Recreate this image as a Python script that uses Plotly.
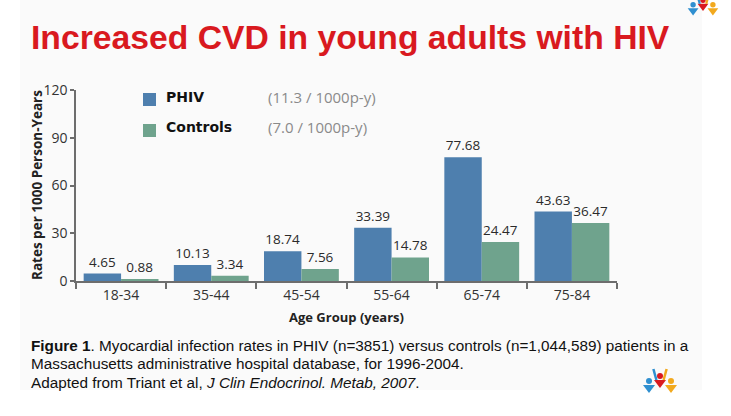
import plotly.graph_objects as go

# ---- data ----
age_groups = ["18-34", "35-44", "45-54", "55-64", "65-74", "75-84"]
phiv_rates = [4.65, 10.13, 18.74, 33.39, 77.68, 43.63]
control_rates = [0.88, 3.34, 7.56, 14.78, 24.47, 36.47]
series_names = ["PHIV", "Controls"]
overall_rates = ["(11.3 / 1000p-y)", "(7.0 / 1000p-y)"]
y_ticks = [0, 30, 60, 90, 120]

W, H = 731, 416
L, R, T, B = 76, 617, 90, 281  # plot area in pixels

BLUE = "#4e7fae"
GREEN = "#6fa38d"
AXIS = "#6d6d6d"


def px(x):
    return (x - L) / (R - L)


def py(y):
    return (B - y) / (B - T)


fig = go.Figure()
for name, vals, col in [(series_names[0], phiv_rates, BLUE),
                        (series_names[1], control_rates, GREEN)]:
    fig.add_trace(go.Bar(
        x=age_groups, y=vals, name=name, marker_color=col,
        marker_line_width=0,
        text=[f"{v:.2f}" for v in vals], textposition="outside",
        textfont=dict(family="Open Sans", size=13.5, color="#2a2a2a"),
        cliponaxis=False, showlegend=False,
    ))

shapes = []
annotations = []

# off-white slide panel
shapes.append(dict(type="rect", xref="paper", yref="paper", layer="below",
                   x0=px(20), x1=px(702), y0=py(390), y1=py(0),
                   fillcolor="#fafafa", line_width=0))

# manual legend
sq_y = [99.5, 130.5]
txt_y = [97, 127]
for i, (nm, rate, col) in enumerate(zip(series_names, overall_rates, [BLUE, GREEN])):
    shapes.append(dict(type="rect", xref="paper", yref="paper",
                       x0=px(143), x1=px(156), y0=py(sq_y[i] + 6.5), y1=py(sq_y[i] - 6.5),
                       fillcolor=col, line_width=0))
    annotations.append(dict(xref="paper", yref="paper", x=px(164), y=py(txt_y[i]),
                            xanchor="left", yanchor="middle", showarrow=False,
                            text=f"<b>{nm}</b>",
                            font=dict(family="DejaVu Sans", size=14, color="#111111")))
    annotations.append(dict(xref="paper", yref="paper", x=px(266), y=py(txt_y[i]),
                            xanchor="left", yanchor="middle", showarrow=False,
                            text=rate,
                            font=dict(family="Open Sans", size=15, color="#8a8a8a")))

# axis titles
annotations.append(dict(xref="paper", yref="paper", x=px(346), y=py(317),
                        xanchor="center", yanchor="middle", showarrow=False,
                        text="<b>Age Group (years)</b>",
                        font=dict(family="Open Sans", size=13, color="#222222")))
annotations.append(dict(xref="paper", yref="paper", x=px(37), y=py(185),
                        xanchor="center", yanchor="middle", showarrow=False,
                        textangle=-90, text="<b>Rates per 1000 Person-Years</b>",
                        font=dict(family="Open Sans", size=13.5, color="#222222")))

# slide title
annotations.append(dict(xref="paper", yref="paper", x=px(29), y=py(37),
                        xanchor="left", yanchor="middle", showarrow=False,
                        text="<b>Increased CVD in young adults with HIV</b>",
                        font=dict(family="Liberation Sans, Arial", size=33.7, color="#d9191f")))

# caption
cap = [
    "<b>Figure 1</b>. Myocardial infection rates in PHIV (n=3851) versus controls (n=1,044,589) patients in a",
    "Massachusetts administrative hospital database, for 1996-2004.",
    "Adapted from Triant et al, <i>J Clin Endocrinol. Metab, 2007</i>.",
]
for i, line in enumerate(cap):
    annotations.append(dict(xref="paper", yref="paper", x=px(29), y=py(345 + 18.5 * i),
                            xanchor="left", yanchor="middle", showarrow=False,
                            text=line,
                            font=dict(family="Liberation Sans, Arial", size=15.3, color="#111111")))


# small logos (three figures)
def logo(cx, cy, s):
    out = []
    figs = [(-11, 3, "#2f8fd0"), (0, -2, "#d9191f"), (11, 3, "#f2a91e")]
    for dx, dy, c in figs:
        hx, hy = cx + dx * s, cy + dy * s
        out.append(dict(type="circle", xref="paper", yref="paper",
                        x0=px(hx - 3 * s), x1=px(hx + 3 * s),
                        y0=py(hy + 3 * s), y1=py(hy - 3 * s),
                        fillcolor=c, line_width=0))
        path = (f"M {px(hx - 6 * s)},{py(hy + 4 * s)} "
                f"L {px(hx + 6 * s)},{py(hy + 4 * s)} "
                f"L {px(hx)},{py(hy + 12 * s)} Z")
        out.append(dict(type="path", xref="paper", yref="paper", path=path,
                        fillcolor=c, line_width=0))
    for dx, c in [(-6, "#2f8fd0"), (6, "#f2a91e")]:
        out.append(dict(type="line", xref="paper", yref="paper",
                        x0=px(cx + dx * s * 0.6), y0=py(cy + 2 * s),
                        x1=px(cx + dx * s * 1.1), y1=py(cy - 9 * s),
                        line=dict(color=c, width=2.5 * s)))
    return out


shapes += logo(660, 378, 1.0)
shapes += logo(703, 2, 0.9)

fig.update_layout(
    width=W, height=H, autosize=False,
    margin=dict(l=L, r=W - R, t=T, b=H - B, pad=0),
    paper_bgcolor="white", plot_bgcolor="rgba(0,0,0,0)",
    barmode="group", bargap=0.17, bargroupgap=0.0,
    showlegend=False,
    shapes=shapes, annotations=annotations,
    xaxis=dict(showline=True, linecolor=AXIS, linewidth=1.5,
               ticks="outside", tickson="boundaries", ticklen=6,
               tickcolor=AXIS, tickwidth=1.5, showgrid=False,
               tickfont=dict(family="Open Sans", size=14, color="#333333")),
    yaxis=dict(range=[0, 120], tickvals=y_ticks, showline=True,
               linecolor=AXIS, linewidth=1.5, ticks="outside", ticklen=4,
               tickcolor=AXIS, tickwidth=1.5, showgrid=False, zeroline=False,
               tickfont=dict(family="Open Sans", size=14, color="#333333")),
)

fig.write_html("out.html", config={"displayModeBar": False},
               post_script="document.body.style.margin='0px';document.body.style.padding='0px';")
